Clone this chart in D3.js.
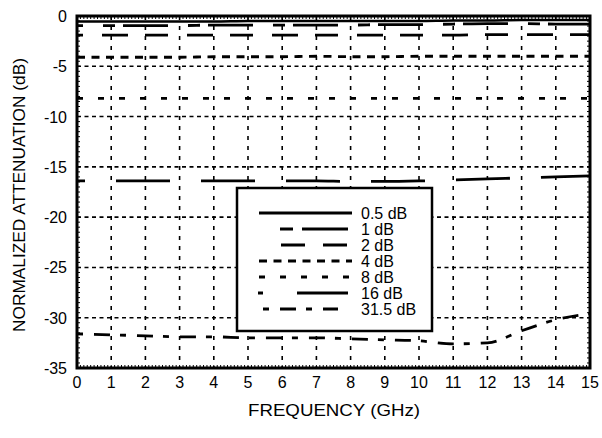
<!DOCTYPE html>
<html><head><meta charset="utf-8">
<script src="https://cdn.jsdelivr.net/npm/d3@7"></script>
<style>body{margin:0;background:#fff}svg{display:block}text{font-family:"Liberation Sans",Arial,sans-serif;fill:#000}</style>
</head><body><svg id="c" width="602" height="438"></svg>
<script>
const freq = [0,1,2,3,4,5,6,7,8,9,10,11,12,13,14,15];
const s05  = [-0.55,-0.55,-0.55,-0.55,-0.55,-0.5,-0.5,-0.5,-0.5,-0.5,-0.5,-0.45,-0.45,-0.4,-0.4,-0.4];
const s1   = [-0.95,-0.95,-0.95,-0.95,-0.9,-0.9,-0.9,-0.9,-0.9,-0.85,-0.85,-0.8,-0.75,-0.75,-0.8,-0.8];
const s2   = [-1.9,-1.9,-1.9,-1.9,-1.9,-1.9,-1.9,-1.9,-1.9,-1.9,-1.9,-1.9,-1.85,-1.85,-1.85,-1.85];
const s4   = [-4.1,-4.1,-4.1,-4.1,-4.05,-4.05,-4.05,-4.0,-4.05,-4.05,-4.0,-4.0,-4.0,-4.0,-4.0,-4.0];
const s8   = [-8.2,-8.2,-8.2,-8.2,-8.2,-8.2,-8.2,-8.2,-8.2,-8.2,-8.2,-8.2,-8.2,-8.2,-8.2,-8.2];
const s16  = [-16.4,-16.4,-16.4,-16.4,-16.4,-16.4,-16.4,-16.4,-16.45,-16.45,-16.4,-16.3,-16.2,-16.1,-16.0,-15.9];
const s315 = [-31.6,-31.7,-31.8,-31.9,-31.9,-32.0,-32.0,-32.0,-32.1,-32.2,-32.3,-32.6,-32.5,-31.3,-30.2,-29.6];
const seriesNames = ["0.5 dB","1 dB","2 dB","4 dB","8 dB","16 dB","31.5 dB"];
const xTicks = [0,1,2,3,4,5,6,7,8,9,10,11,12,13,14,15];
const yTicks = [0,-5,-10,-15,-20,-25,-30,-35];

const svg = d3.select("#c");
const L=77, R=590, T=16, B=368;
const x = d3.scaleLinear().domain([0,15]).range([L,R]);
const y = d3.scaleLinear().domain([-35,0]).range([B,T]);

// grid
const g = svg.append("g");
g.selectAll("line.v").data(xTicks.slice(1,-1)).enter().append("line")
  .attr("x1",d=>x(d)).attr("x2",d=>x(d)).attr("y1",T).attr("y2",B)
  .attr("stroke","#000").attr("stroke-width",1.6).attr("stroke-dasharray","4,6");
g.selectAll("line.h").data(yTicks.slice(1,-1)).enter().append("line")
  .attr("y1",d=>y(d)).attr("y2",d=>y(d)).attr("x1",L).attr("x2",R)
  .attr("stroke","#000").attr("stroke-width",1.6).attr("stroke-dasharray","4,3.5");

// minor ticks
const minorX = d3.range(0,15.001,0.1);
g.selectAll("line.mb").data(minorX).enter().append("line")
  .attr("x1",d=>x(d)).attr("x2",d=>x(d)).attr("y1",B).attr("y2",B-3).attr("stroke","#000").attr("stroke-width",1);
g.selectAll("line.mt").data(minorX).enter().append("line")
  .attr("x1",d=>x(d)).attr("x2",d=>x(d)).attr("y1",T).attr("y2",T+3).attr("stroke","#000").attr("stroke-width",1);
const minorY = d3.range(-35,0.001,0.5);
g.selectAll("line.ml").data(minorY).enter().append("line")
  .attr("y1",d=>y(d)).attr("y2",d=>y(d)).attr("x1",L).attr("x2",L+3).attr("stroke","#000").attr("stroke-width",1);
g.selectAll("line.mr").data(minorY).enter().append("line")
  .attr("y1",d=>y(d)).attr("y2",d=>y(d)).attr("x1",R).attr("x2",R-3).attr("stroke","#000").attr("stroke-width",1);

// series
const styles = [
  {v:s05, dash:null, off:0, w:2.6},
  {v:s1, dash:"12,8,45,20", off:59, w:2.8},
  {v:s2, dash:"26,17,23,19", off:60, w:2.8},
  {v:s4, dash:"8,6.5", off:0, w:2.8},
  {v:s8, dash:"6,15", off:0, w:2.8},
  {v:s16, dash:"54,31", off:46, w:2.8},
  {v:s315, dash:"6,11,16,10", off:0, w:2.8}
];
const line = d3.line().x((d,i)=>x(freq[i])).y(d=>y(d)).curve(d3.curveMonotoneX);
styles.forEach(s=>{
  svg.append("path").datum(s.v).attr("d",line).attr("fill","none").attr("stroke","#000")
    .attr("stroke-width",s.w).attr("stroke-dasharray",s.dash).attr("stroke-dashoffset",s.off);
});

// frame
svg.append("rect").attr("x",L).attr("y",T).attr("width",R-L).attr("height",B-T)
  .attr("fill","none").attr("stroke","#000").attr("stroke-width",3);

// axes labels
svg.selectAll("text.xt").data(xTicks).enter().append("text")
  .attr("x",d=>x(d)).attr("y",388).attr("text-anchor","middle").attr("font-size",16).text(d=>d);
svg.selectAll("text.yt").data(yTicks).enter().append("text")
  .attr("x",67).attr("y",d=>y(d)+6).attr("text-anchor","end").attr("font-size",16).text(d=>d);
svg.append("text").attr("x",334).attr("y",416).attr("text-anchor","middle").attr("font-size",16)
  .attr("textLength",172).attr("lengthAdjust","spacingAndGlyphs").text("FREQUENCY (GHz)");
svg.append("text").attr("transform","translate(25,195) rotate(-90)").attr("text-anchor","middle").attr("font-size",16)
  .attr("textLength",274).attr("lengthAdjust","spacingAndGlyphs").text("NORMALIZED ATTENUATION (dB)");

// legend
const lg = svg.append("g");
lg.append("rect").attr("x",237).attr("y",188).attr("width",195).attr("height",143)
  .attr("fill","#fff").attr("stroke","#000").attr("stroke-width",2.5);
const legSamples = [
  {x1:259,x2:352,dash:null},
  {x1:280,x2:348,dash:"13,9,46,100"},
  {x1:281,x2:347,dash:"24,18,24,100"},
  {x1:259,x2:352,dash:"8,6.5"},
  {x1:259,x2:350,dash:"6,15"},
  {x1:258,x2:348,dash:"5,34,51,100"},
  {x1:263,x2:338,dash:"6,11,16,10,6,11,15,100"}
];
seriesNames.forEach((n,i)=>{
  const yy = 213 + i*16;
  const s = legSamples[i];
  lg.append("line").attr("x1",s.x1).attr("x2",s.x2).attr("y1",yy).attr("y2",yy)
    .attr("stroke","#000").attr("stroke-width",2.8).attr("stroke-dasharray",s.dash);
  lg.append("text").attr("x",361).attr("y",yy+6).attr("font-size",16).text(n);
});
</script></body></html>
